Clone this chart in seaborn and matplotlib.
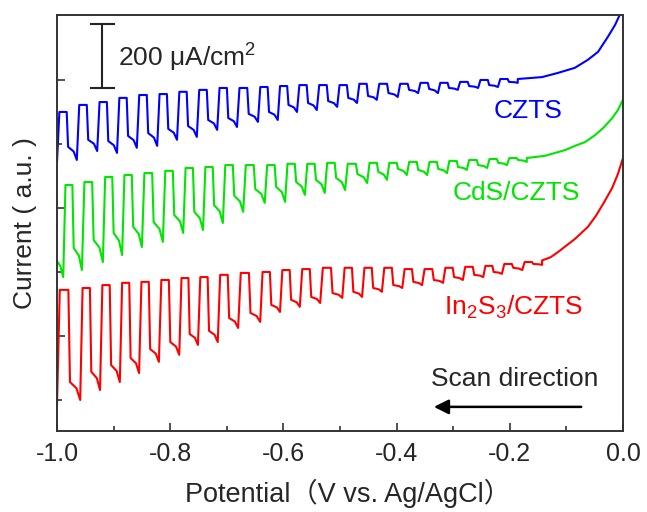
import matplotlib
matplotlib.use("Agg")
import matplotlib.pyplot as plt
import pandas as pd
import seaborn as sns
from matplotlib.ticker import FixedLocator, FormatStrFormatter, NullFormatter

# Chopped-light linear sweeps.
# Potentials in V vs Ag/AgCl, currents in uA/cm2 (arbitrary offset per curve).
# *_edge_v: potential of every light edge (rise), then per chop cycle the
# plateau current, the current right after the drop and the spike bottom.

czts_lead_v = [-1.0]
czts_lead_i = [744]
czts_edge_v = [-1.000, -0.965, -0.929, -0.894, -0.859, -0.823, -0.788, -0.753,
               -0.717, -0.682, -0.645, -0.610, -0.576, -0.541, -0.505, -0.470,
               -0.435, -0.398, -0.362, -0.327, -0.292, -0.256, -0.221, -0.186]
czts_top = [900, 922, 931, 944, 953, 956, 963, 969, 975, 975, 978, 981,
            984, 984, 984, 988, 988, 988, 991, 991, 994, 1000, 1003]
czts_knee = [791, 813, 809, 825, 834, 847, 856, 875, 881, 894, 900, 922,
             928, 934, 944, 950, 959, 969, 972, 975, 981, 984, 994]
czts_bottom = [750, 778, 772, 788, 794, 813, 822, 844, 853, 869, 875, 900,
               906, 916, 928, 938, 947, 959, 959, 969, 975, 978, 991]
czts_tail_v = [-0.186, -0.164, -0.143, -0.115, -0.085, -0.062, -0.044, -0.027, -0.014, -0.005, 0.0]
czts_tail_i = [1003, 1006, 1009, 1022, 1038, 1063, 1088, 1134, 1172, 1206, 1231]

cds_lead_v = [-1.0, -0.994, -0.989]
cds_lead_i = [434, 418, 384]
cds_edge_v = [-0.989, -0.956, -0.919, -0.885, -0.850, -0.813, -0.777, -0.742,
              -0.707, -0.671, -0.633, -0.597, -0.562, -0.527, -0.491, -0.452,
              -0.417, -0.382, -0.346, -0.311, -0.276, -0.240, -0.205, -0.170]
cds_top = [672, 681, 697, 703, 709, 716, 725, 728, 734, 734, 734, 738,
           738, 741, 738, 741, 741, 744, 744, 747, 750, 753, 756]
cds_knee = [475, 500, 522, 541, 556, 578, 588, 609, 638, 659, 666, 681,
            688, 694, 706, 713, 722, 719, 722, 728, 734, 741, 750]
cds_bottom = [406, 431, 453, 478, 494, 522, 531, 553, 588, 616, 619, 641,
              647, 656, 678, 688, 703, 703, 709, 719, 725, 734, 744]
cds_tail_v = [-0.170, -0.138, -0.120, -0.102, -0.085, -0.067, -0.049, -0.035, -0.019, -0.009, 0.0]
cds_tail_i = [756, 763, 772, 781, 794, 806, 828, 850, 881, 906, 938]

in2s3_lead_v = [-1.0]
in2s3_lead_i = [-16]
in2s3_edge_v = [-1.000, -0.959, -0.924, -0.889, -0.855, -0.820, -0.784, -0.751,
                -0.716, -0.680, -0.641, -0.606, -0.571, -0.535, -0.496, -0.461,
                -0.426, -0.390, -0.355, -0.318, -0.283, -0.247, -0.214, -0.178, -0.143]
in2s3_top = [344, 350, 359, 366, 369, 375, 381, 384, 391, 397, 400, 406,
             409, 413, 413, 413, 413, 409, 409, 413, 416, 419, 425, 431]
in2s3_knee = [56, 88, 109, 131, 159, 181, 206, 216, 256, 272, 297, 313,
              322, 334, 338, 350, 359, 369, 375, 384, 391, 400, 413, 425]
in2s3_bottom = [0, 31, 56, 84, 119, 141, 172, 181, 225, 244, 275, 291,
                303, 319, 322, 338, 350, 359, 366, 375, 384, 394, 406, 422]
in2s3_tail_v = [-0.143, -0.128, -0.115, -0.099, -0.085, -0.062, -0.048, -0.035, -0.019, -0.009, 0.0]
in2s3_tail_i = [436, 446, 462, 484, 503, 541, 575, 613, 663, 706, 756]

SCALE_BAR = 200  # uA/cm2

COLORS = {"CZTS": "#0000ff", "CdS/CZTS": "#00e600", "In2S3/CZTS": "#ff0000"}


def chop_trace(name, lead_v, lead_i, edge_v, top, knee, bottom, tail_v, tail_i):
    """Square-ish chop cycles: rise, plateau, drop, shoulder, spike."""
    v, cur = list(lead_v), list(lead_i)
    for k in range(len(top)):
        v0, p = edge_v[k], edge_v[k + 1] - edge_v[k]
        v += [v0 + 0.12 * p, v0 + 0.49 * p, v0 + 0.56 * p, v0 + 0.84 * p, edge_v[k + 1]]
        cur += [top[k], top[k], knee[k], knee[k] + 0.35 * (bottom[k] - knee[k]), bottom[k]]
    v += tail_v
    cur += tail_i
    return pd.DataFrame({"V": v, "I": cur, "sample": name})


df = pd.concat([
    chop_trace("CZTS", czts_lead_v, czts_lead_i, czts_edge_v, czts_top, czts_knee,
               czts_bottom, czts_tail_v, czts_tail_i),
    chop_trace("CdS/CZTS", cds_lead_v, cds_lead_i, cds_edge_v, cds_top, cds_knee,
               cds_bottom, cds_tail_v, cds_tail_i),
    chop_trace("In2S3/CZTS", in2s3_lead_v, in2s3_lead_i, in2s3_edge_v, in2s3_top, in2s3_knee,
               in2s3_bottom, in2s3_tail_v, in2s3_tail_i),
], ignore_index=True)

sns.set_theme(style="ticks")
plt.rcParams["font.family"] = ["Liberation Sans", "Noto Sans CJK SC", "DejaVu Sans"]
plt.rcParams["mathtext.fontset"] = "custom"
plt.rcParams["mathtext.rm"] = "Liberation Sans"
plt.rcParams["axes.unicode_minus"] = False

fig = plt.figure(figsize=(6.47, 5.12), dpi=100)
ax = fig.add_axes([0.0881, 0.1582, 0.8748, 0.8125])

sns.lineplot(data=df, x="V", y="I", hue="sample", palette=COLORS, sort=False,
             estimator=None, units="sample", linewidth=1.5, legend=False, ax=ax)

ax.set_xlim(-1.0, 0.0)
ax.set_ylim(-97, 1203)

ax.xaxis.set_major_locator(FixedLocator([-1.0, -0.8, -0.6, -0.4, -0.2, 0.0]))
ax.xaxis.set_minor_locator(FixedLocator([-0.9, -0.7, -0.5, -0.3, -0.1]))
ax.xaxis.set_major_formatter(FormatStrFormatter("%.1f"))
ax.yaxis.set_major_locator(FixedLocator([200, 600, 1000]))
ax.yaxis.set_minor_locator(FixedLocator([0, 400, 800]))
ax.yaxis.set_major_formatter(NullFormatter())

ax.tick_params(axis="both", which="both", direction="in", color="#333333",
               top=False, right=False)
ax.tick_params(axis="both", which="major", length=6, width=1.2)
ax.tick_params(axis="both", which="minor", length=3.5, width=1.2)
ax.tick_params(axis="x", labelsize=18, pad=8)
for s in ax.spines.values():
    s.set_color("#333333")
    s.set_linewidth(1.4)

ax.set_xlabel("Potential（V vs. Ag/AgCl）", fontsize=19.5)
ax.xaxis.set_label_coords(0.514, -0.115)
ax.set_ylabel("Current ( a.u. )", fontsize=19)
ax.yaxis.set_label_coords(-0.035, 0.5)

# scale bar
bar_v = -0.9205
ax.errorbar([bar_v], [975 + SCALE_BAR / 2], yerr=SCALE_BAR / 2, color="#222222",
            capsize=9, capthick=1.5, elinewidth=1.5, fmt="none")
ax.text(0.108, 0.899, r"200 μA/cm$^\mathrm{2}$", transform=ax.transAxes, fontsize=19,
        ha="left", va="center")

ax.text(0.832, 0.769, "CZTS", color=COLORS["CZTS"], fontsize=19,
        transform=ax.transAxes, ha="center", va="center")
ax.text(0.811, 0.572, "CdS/CZTS", color=COLORS["CdS/CZTS"], fontsize=19,
        transform=ax.transAxes, ha="center", va="center")
ax.text(0.807, 0.298, r"In$_\mathrm{2}$S$_\mathrm{3}$/CZTS", color=COLORS["In2S3/CZTS"],
        fontsize=19, transform=ax.transAxes, ha="center", va="center")

ax.text(0.809, 0.125, "Scan direction", fontsize=19, transform=ax.transAxes,
        ha="center", va="center")
ax.annotate("", xy=(0.661, 0.058), xytext=(0.931, 0.058), xycoords="axes fraction",
            arrowprops=dict(arrowstyle="-|>", color="black", lw=1.8, mutation_scale=22))

fig.savefig("out.png", dpi=100)
